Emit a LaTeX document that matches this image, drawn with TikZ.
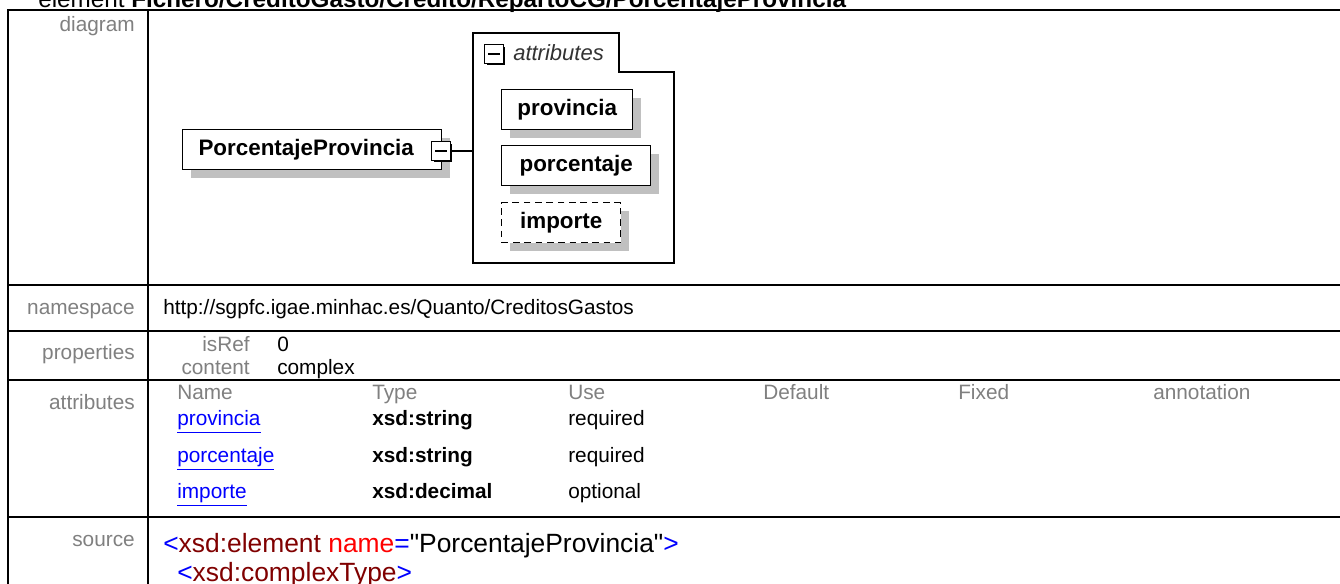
\documentclass[tikz,border=0pt]{standalone}
\usepackage{fontspec}
\setmainfont{Liberation Sans}
\newfontfamily\srcfam{Liberation Sans}[Ligatures=TeXOff]
\usetikzlibrary{positioning,shadows}

\definecolor{lblgray}{HTML}{808080}
\definecolor{shadowgray}{HTML}{C0C0C0}
\definecolor{tagred}{HTML}{800000}

\newcommand{\tblfont}{\fontsize{15.6}{18}\selectfont}
\newcommand{\srcfont}{\srcfam\fontsize{19.8}{22}\selectfont}
\newcommand{\dgmfont}{\fontsize{16.8}{19}\selectfont\bfseries}
\newcommand{\ttlfont}{\fontsize{18.2}{20}\selectfont}

\begin{document}
\begin{tikzpicture}[x=0.75pt, y=-0.75pt,
    tbl/.style = {line width=1.5pt},
    rowlbl/.style = {font=\tblfont, text=lblgray, anchor=base east, inner sep=0pt},
    cell/.style = {font=\tblfont, anchor=base west, inner sep=0pt},
    hdr/.style = {cell, text=lblgray},
    link/.style = {cell, text=blue},
    elembox/.style = {draw, line width=1.1pt, fill=white, font=\dgmfont, anchor=north west,
        minimum height=30pt, inner sep=0pt,
        drop shadow={shadow xshift=6.5pt, shadow yshift=-6.5pt, fill=shadowgray, opacity=1}},
    minusbox/.style = {draw, line width=0.9pt, fill=white, minimum size=14pt, inner sep=0pt,
        drop shadow={shadow xshift=1.5pt, shadow yshift=-1.5pt, fill=black, opacity=1}}]

    \clip (0,0) rectangle (1340,584);
    \fill[white] (0,0) rectangle (1340,584);

    % title
    \node[font=\ttlfont, anchor=base west, inner sep=0pt] (title) at (38,8)
        {element \textbf{Fichero/CreditoGasto/Credito/RepartoCG/PorcentajeProvincia}};

    % table
    \draw[tbl] (1350,10) -- (8,10) -- (8,600);
    \draw[tbl] (148,10) -- (148,600);
    \foreach \y in {285,331,380,517}
        \draw[tbl] (8,\y) -- (1350,\y);

    % row labels
    \node[rowlbl] (ldiagram) at (135,32) {diagram};
    \node[rowlbl] (lnamespace) at (135,315) {namespace};
    \node[rowlbl] (lproperties) at (135,360) {properties};
    \node[rowlbl] (lattributes) at (135,410) {attributes};
    \node[rowlbl] (lsource) at (135,547) {source};

    % diagram
    \node[elembox, minimum width=194.25pt] (pp) at (182,129) {PorcentajeProvincia\hspace*{9pt}};
    \node[minusbox] (ppminus) at (441,151) {};
    \draw[line width=0.9pt] ([xshift=3pt]ppminus.west) -- ([xshift=-3pt]ppminus.east);

    \draw[line width=1.1pt] (473,33) -- (619,33) -- (619,72) -- (674,72) -- (674,263) -- (473,263) -- cycle;
    \coordinate (attrin) at (473,151);
    \draw[line width=1.1pt] (ppminus.east) -- (attrin);

    \node[minusbox] (attrminus) at (494,54) {};
    \draw[line width=0.9pt] ([xshift=3pt]attrminus.west) -- ([xshift=-3pt]attrminus.east);
    \node[font=\fontsize{16.5}{19}\selectfont\itshape, text=black!80, anchor=west, inner sep=0pt] (attrtitle)
        at (513,53) {attributes};

    \node[elembox, minimum width=98.25pt] (aprov) at (501,89) {provincia};
    \node[elembox, minimum width=111.75pt] (aporc) at (501,145) {porcentaje};
    \node[elembox, minimum width=89.25pt, dash pattern=on 5pt off 3.5pt] (aimp) at (501,202) {importe};

    % namespace and properties
    \node[cell] (ns) at (163,315) {http://sgpfc.igae.minhac.es/Quanto/CreditosGastos};
    \node[rowlbl] (kisref) at (250,352) {isRef};
    \node[cell] (visref) at (277,352) {0};
    \node[rowlbl] (kcontent) at (250,375) {content};
    \node[cell] (vcontent) at (277,375) {complex};

    % attributes
    \node[hdr] (hname) at (177,400) {Name};
    \node[hdr] (htype) at (372,400) {Type};
    \node[hdr] (huse) at (568,400) {Use};
    \node[hdr] (hdefault) at (763,400) {Default};
    \node[hdr] (hfixed) at (958,400) {Fixed};
    \node[hdr] (hannot) at (1153,400) {annotation};

    \node[link] (nprov) at (177,426) {\underline{provincia}};
    \node[cell, font=\tblfont\bfseries] (tprov) at (372,426) {xsd:string};
    \node[cell] (uprov) at (568,426) {required};
    \node[link] (nporc) at (177,463) {\underline{porcentaje}};
    \node[cell, font=\tblfont\bfseries] (tporc) at (372,463) {xsd:string};
    \node[cell] (uporc) at (568,463) {required};
    \node[link] (nimp) at (177,499) {\underline{importe}};
    \node[cell, font=\tblfont\bfseries] (timp) at (372,499) {xsd:decimal};
    \node[cell] (uimp) at (568,499) {optional};

    % source
    \node[cell, font=\srcfont] (src1) at (163,553)
        {{\color{blue}<}{\color{tagred}xsd:element} {\color{red}name}{\color{blue}=}"PorcentajeProvincia"{\color{blue}>}};
    \node[cell, font=\srcfont] (src2) at (177,582)
        {{\color{blue}<}{\color{tagred}xsd:complexType}{\color{blue}>}};

\end{tikzpicture}
\end{document}
